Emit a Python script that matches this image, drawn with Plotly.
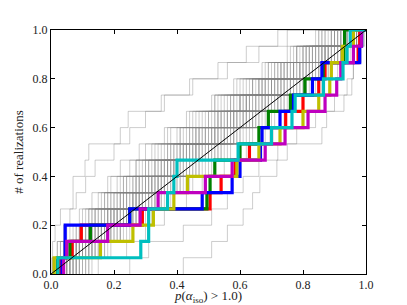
import plotly.graph_objects as go

# Colored realizations: sorted p-values (jump positions of each ECDF)
blue_p = [0.035, 0.045, 0.045, 0.25, 0.48, 0.575, 0.60, 0.665, 0.67, 0.727, 0.77, 0.83, 0.86, 0.98, 0.986]
green_p = [0.02, 0.06, 0.125, 0.25, 0.495, 0.505, 0.52, 0.60, 0.66, 0.69, 0.76, 0.806, 0.864, 0.93, 0.932]
red_p = [0.03, 0.067, 0.096, 0.29, 0.505, 0.54, 0.585, 0.63, 0.70, 0.745, 0.80, 0.85, 0.87, 0.975, 0.98]
magenta_p = [0.04, 0.05, 0.18, 0.283, 0.34, 0.49, 0.575, 0.68, 0.743, 0.816, 0.87, 0.907, 0.92, 0.96, 0.985]
yellow_p = [0.01, 0.157, 0.26, 0.325, 0.39, 0.433, 0.59, 0.66, 0.727, 0.80, 0.85, 0.885, 0.89, 0.925, 0.96]
cyan_p = [0.022, 0.285, 0.31, 0.31, 0.37, 0.39, 0.40, 0.594, 0.70, 0.765, 0.775, 0.865, 0.927, 0.94, 0.95]

# drawing order (later on top)
colored = [
    (red_p, "#ff0000"),
    (green_p, "#008000"),
    (blue_p, "#0000ff"),
    (yellow_p, "#bfbf00"),
    (magenta_p, "#bf00bf"),
    (cyan_p, "#00bfbf"),
]

# Gray (null) realizations: sorted p-values
gray_p = [
    [0.01, 0.05, 0.09, 0.14, 0.20, 0.26, 0.31, 0.37, 0.44, 0.50, 0.57, 0.64, 0.72, 0.81, 0.90],
    [0.03, 0.08, 0.12, 0.19, 0.23, 0.28, 0.35, 0.41, 0.46, 0.53, 0.60, 0.68, 0.75, 0.86, 0.95],
    [0.02, 0.04, 0.11, 0.16, 0.22, 0.30, 0.33, 0.39, 0.48, 0.55, 0.62, 0.70, 0.79, 0.88, 0.93],
    [0.06, 0.10, 0.15, 0.21, 0.27, 0.32, 0.38, 0.43, 0.51, 0.58, 0.66, 0.73, 0.80, 0.84, 0.97],
    [0.04, 0.07, 0.13, 0.18, 0.24, 0.29, 0.36, 0.45, 0.52, 0.59, 0.65, 0.71, 0.77, 0.85, 0.91],
    [0.08, 0.12, 0.17, 0.25, 0.31, 0.34, 0.40, 0.47, 0.54, 0.61, 0.69, 0.76, 0.83, 0.89, 0.96],
    [0.005, 0.03, 0.06, 0.10, 0.15, 0.19, 0.25, 0.30, 0.38, 0.45, 0.53, 0.61, 0.69, 0.78, 0.87],
    [0.10, 0.16, 0.22, 0.28, 0.33, 0.42, 0.49, 0.55, 0.60, 0.67, 0.74, 0.81, 0.86, 0.92, 0.98],
    [0.02, 0.09, 0.14, 0.20, 0.26, 0.33, 0.39, 0.44, 0.50, 0.56, 0.63, 0.70, 0.78, 0.87, 0.94],
    [0.05, 0.11, 0.18, 0.23, 0.29, 0.37, 0.42, 0.50, 0.57, 0.64, 0.72, 0.79, 0.84, 0.90, 0.99],
    [0.01, 0.06, 0.08, 0.12, 0.17, 0.21, 0.27, 0.34, 0.41, 0.49, 0.55, 0.63, 0.73, 0.82, 0.91],
    [0.07, 0.14, 0.20, 0.27, 0.35, 0.40, 0.46, 0.53, 0.58, 0.65, 0.71, 0.77, 0.85, 0.93, 0.97],
    [0.03, 0.05, 0.10, 0.17, 0.23, 0.28, 0.36, 0.43, 0.47, 0.54, 0.62, 0.67, 0.76, 0.83, 0.92],
    [0.12, 0.19, 0.26, 0.30, 0.37, 0.44, 0.51, 0.57, 0.63, 0.70, 0.76, 0.84, 0.89, 0.94, 0.99],
    [0.02, 0.07, 0.11, 0.15, 0.19, 0.24, 0.29, 0.35, 0.42, 0.48, 0.56, 0.66, 0.74, 0.80, 0.89],
    [0.09, 0.13, 0.21, 0.26, 0.32, 0.39, 0.45, 0.52, 0.59, 0.66, 0.73, 0.80, 0.87, 0.91, 0.96],
    [0.04, 0.10, 0.16, 0.22, 0.28, 0.34, 0.41, 0.48, 0.53, 0.60, 0.68, 0.75, 0.82, 0.88, 0.95],
    [0.01, 0.02, 0.05, 0.09, 0.13, 0.18, 0.22, 0.28, 0.36, 0.43, 0.51, 0.59, 0.68, 0.77, 0.86],
    [0.15, 0.24, 0.30, 0.36, 0.43, 0.48, 0.55, 0.62, 0.68, 0.74, 0.80, 0.86, 0.91, 0.95, 0.99],
    [0.06, 0.09, 0.13, 0.20, 0.25, 0.31, 0.37, 0.46, 0.55, 0.62, 0.69, 0.74, 0.81, 0.86, 0.93],
    [0.25, 0.31, 0.42, 0.51, 0.56, 0.61, 0.66, 0.72, 0.78, 0.84, 0.90, 0.94, 0.96, 0.98, 0.995],
    [0.003, 0.02, 0.04, 0.06, 0.08, 0.11, 0.14, 0.20, 0.22, 0.245, 0.35, 0.44, 0.53, 0.62, 0.72],
    [0.004, 0.005, 0.013, 0.03, 0.07, 0.07, 0.108, 0.12, 0.25, 0.30, 0.36, 0.45, 0.56, 0.66, 0.75],
    [0.42, 0.51, 0.56, 0.61, 0.64, 0.663, 0.717, 0.75, 0.86, 0.875, 0.93, 0.955, 0.96, 0.985, 0.99],
    [0.05, 0.08, 0.16, 0.21, 0.27, 0.35, 0.40, 0.46, 0.52, 0.61, 0.67, 0.72, 0.79, 0.85, 0.92],
    [0.02, 0.06, 0.12, 0.18, 0.24, 0.30, 0.38, 0.45, 0.51, 0.57, 0.64, 0.69, 0.75, 0.82, 0.90],
    [0.07, 0.13, 0.19, 0.24, 0.30, 0.36, 0.43, 0.49, 0.56, 0.63, 0.70, 0.78, 0.83, 0.88, 0.94],
    [0.03, 0.09, 0.14, 0.19, 0.22, 0.27, 0.34, 0.42, 0.49, 0.58, 0.65, 0.72, 0.80, 0.89, 0.96],
    [0.11, 0.17, 0.23, 0.29, 0.34, 0.41, 0.47, 0.54, 0.61, 0.68, 0.75, 0.82, 0.88, 0.93, 0.98],
    [0.01, 0.04, 0.07, 0.11, 0.16, 0.23, 0.32, 0.39, 0.45, 0.52, 0.58, 0.64, 0.71, 0.79, 0.88],
    [0.08, 0.15, 0.18, 0.26, 0.33, 0.38, 0.44, 0.50, 0.57, 0.63, 0.71, 0.77, 0.84, 0.90, 0.97],
    [0.04, 0.06, 0.10, 0.14, 0.21, 0.27, 0.33, 0.40, 0.47, 0.56, 0.63, 0.71, 0.78, 0.84, 0.91],
    [0.06, 0.11, 0.14, 0.22, 0.28, 0.33, 0.39, 0.47, 0.53, 0.59, 0.66, 0.74, 0.82, 0.87, 0.95],
    [0.02, 0.08, 0.15, 0.20, 0.25, 0.32, 0.37, 0.43, 0.50, 0.54, 0.61, 0.67, 0.74, 0.81, 0.89],
    [0.09, 0.12, 0.19, 0.25, 0.31, 0.37, 0.42, 0.51, 0.58, 0.64, 0.70, 0.76, 0.85, 0.91, 0.98],
    [0.03, 0.07, 0.09, 0.13, 0.18, 0.22, 0.28, 0.33, 0.40, 0.47, 0.54, 0.62, 0.70, 0.78, 0.85],
    [0.13, 0.18, 0.24, 0.31, 0.38, 0.45, 0.50, 0.56, 0.64, 0.71, 0.77, 0.83, 0.88, 0.92, 0.97],
    [0.05, 0.10, 0.17, 0.23, 0.29, 0.35, 0.41, 0.48, 0.55, 0.60, 0.68, 0.75, 0.81, 0.86, 0.94],
    [0.01, 0.03, 0.08, 0.12, 0.19, 0.26, 0.31, 0.38, 0.43, 0.50, 0.59, 0.65, 0.72, 0.80, 0.87],
    [0.07, 0.14, 0.21, 0.27, 0.32, 0.36, 0.44, 0.52, 0.60, 0.66, 0.73, 0.79, 0.86, 0.92, 0.99],
    [0.02, 0.05, 0.13, 0.17, 0.21, 0.25, 0.30, 0.36, 0.41, 0.46, 0.52, 0.60, 0.69, 0.76, 0.84],
    [0.10, 0.14, 0.20, 0.24, 0.29, 0.34, 0.40, 0.45, 0.51, 0.57, 0.62, 0.70, 0.77, 0.83, 0.93],
    [0.04, 0.09, 0.12, 0.16, 0.26, 0.31, 0.36, 0.42, 0.49, 0.55, 0.61, 0.69, 0.76, 0.85, 0.90],
    [0.06, 0.13, 0.18, 0.22, 0.27, 0.33, 0.38, 0.44, 0.52, 0.58, 0.64, 0.72, 0.80, 0.88, 0.97],
    [0.01, 0.07, 0.10, 0.15, 0.20, 0.28, 0.35, 0.41, 0.46, 0.53, 0.57, 0.64, 0.73, 0.83, 0.92],
    [0.08, 0.11, 0.16, 0.21, 0.26, 0.30, 0.39, 0.46, 0.54, 0.62, 0.67, 0.73, 0.79, 0.87, 0.95],
    [0.03, 0.06, 0.11, 0.19, 0.24, 0.29, 0.34, 0.38, 0.44, 0.51, 0.60, 0.66, 0.77, 0.84, 0.93],
    [0.05, 0.12, 0.17, 0.24, 0.30, 0.38, 0.43, 0.49, 0.55, 0.62, 0.68, 0.74, 0.81, 0.90, 0.96],
    [0.02, 0.04, 0.09, 0.13, 0.17, 0.23, 0.27, 0.32, 0.37, 0.44, 0.52, 0.58, 0.67, 0.75, 0.86],
    [0.11, 0.15, 0.22, 0.28, 0.35, 0.41, 0.48, 0.53, 0.58, 0.64, 0.72, 0.78, 0.85, 0.91, 0.98],
    [0.06, 0.08, 0.14, 0.19, 0.23, 0.32, 0.37, 0.42, 0.48, 0.57, 0.63, 0.70, 0.75, 0.82, 0.89],
    [0.03, 0.10, 0.13, 0.18, 0.27, 0.34, 0.40, 0.47, 0.53, 0.59, 0.67, 0.73, 0.83, 0.89, 0.95],
    [0.07, 0.12, 0.16, 0.23, 0.28, 0.32, 0.37, 0.44, 0.49, 0.56, 0.62, 0.68, 0.74, 0.80, 0.90],
    [0.01, 0.05, 0.12, 0.18, 0.22, 0.27, 0.33, 0.41, 0.47, 0.52, 0.58, 0.66, 0.71, 0.78, 0.85],
    [0.09, 0.16, 0.19, 0.26, 0.31, 0.36, 0.45, 0.51, 0.56, 0.61, 0.69, 0.76, 0.82, 0.87, 0.94],
    [0.04, 0.08, 0.15, 0.21, 0.26, 0.31, 0.35, 0.40, 0.46, 0.54, 0.60, 0.68, 0.77, 0.86, 0.93],
    [0.12, 0.17, 0.25, 0.32, 0.36, 0.43, 0.47, 0.54, 0.62, 0.69, 0.74, 0.81, 0.87, 0.94, 0.98],
    [0.02, 0.06, 0.10, 0.14, 0.18, 0.24, 0.30, 0.37, 0.45, 0.53, 0.60, 0.67, 0.73, 0.81, 0.92],
    [0.05, 0.09, 0.15, 0.20, 0.28, 0.35, 0.39, 0.46, 0.52, 0.58, 0.65, 0.71, 0.79, 0.87, 0.96],
    [0.08, 0.13, 0.22, 0.27, 0.33, 0.40, 0.46, 0.50, 0.59, 0.65, 0.72, 0.80, 0.86, 0.93, 0.97],
]

tick_vals = [0.0, 0.2, 0.4, 0.6, 0.8, 1.0]
tick_text = ["0.0", "0.2", "0.4", "0.6", "0.8", "1.0"]


def ecdf_xy(p):
    ps = sorted(p)
    n = len(ps)
    xs = [ps[0]] + ps + [1.0]
    ys = [0.0] + [(i + 1) / n for i in range(n)] + [1.0]
    return xs, ys


fig = go.Figure()

for p in gray_p:
    xs, ys = ecdf_xy(p)
    fig.add_trace(go.Scatter(x=xs, y=ys, mode="lines", line_shape="hv",
                             line=dict(color="rgba(130,130,130,0.4)", width=1),
                             showlegend=False, hoverinfo="skip"))

for p, col in colored:
    xs, ys = ecdf_xy(p)
    fig.add_trace(go.Scatter(x=xs, y=ys, mode="lines", line_shape="hv",
                             line=dict(color=col, width=3.2),
                             showlegend=False, hoverinfo="skip"))

fig.add_trace(go.Scatter(x=[0, 1], y=[0, 1], mode="lines",
                         line=dict(color="black", width=1),
                         showlegend=False, hoverinfo="skip"))

font_family = "Liberation Serif, DejaVu Serif, serif"

axis_common = dict(
    range=[0, 1], tickvals=tick_vals, ticktext=tick_text,
    showgrid=False, zeroline=False, showline=True, linecolor="black", linewidth=1,
    mirror="allticks", ticks="inside", ticklen=4, tickwidth=1, tickcolor="black",
    tickfont=dict(family=font_family, size=12, color="#222"),
)

# page has an 8px body margin, so the figure is sized to fit the 407x305 window
fig.update_layout(
    width=399, height=297,
    margin=dict(l=43, r=41, t=22, b=31, autoexpand=False),
    paper_bgcolor="white", plot_bgcolor="white",
    font=dict(family=font_family, color="#222"),
    xaxis=dict(**axis_common,
               title=dict(text="<i>p</i>(<i>α</i><sub>iso</sub>) &gt; 1.0)",
                          font=dict(family=font_family, size=13), standoff=4)),
    yaxis=dict(**axis_common,
               title=dict(text="# of realizations",
                          font=dict(family=font_family, size=13), standoff=6)),
)

fig.write_html("out.html")
